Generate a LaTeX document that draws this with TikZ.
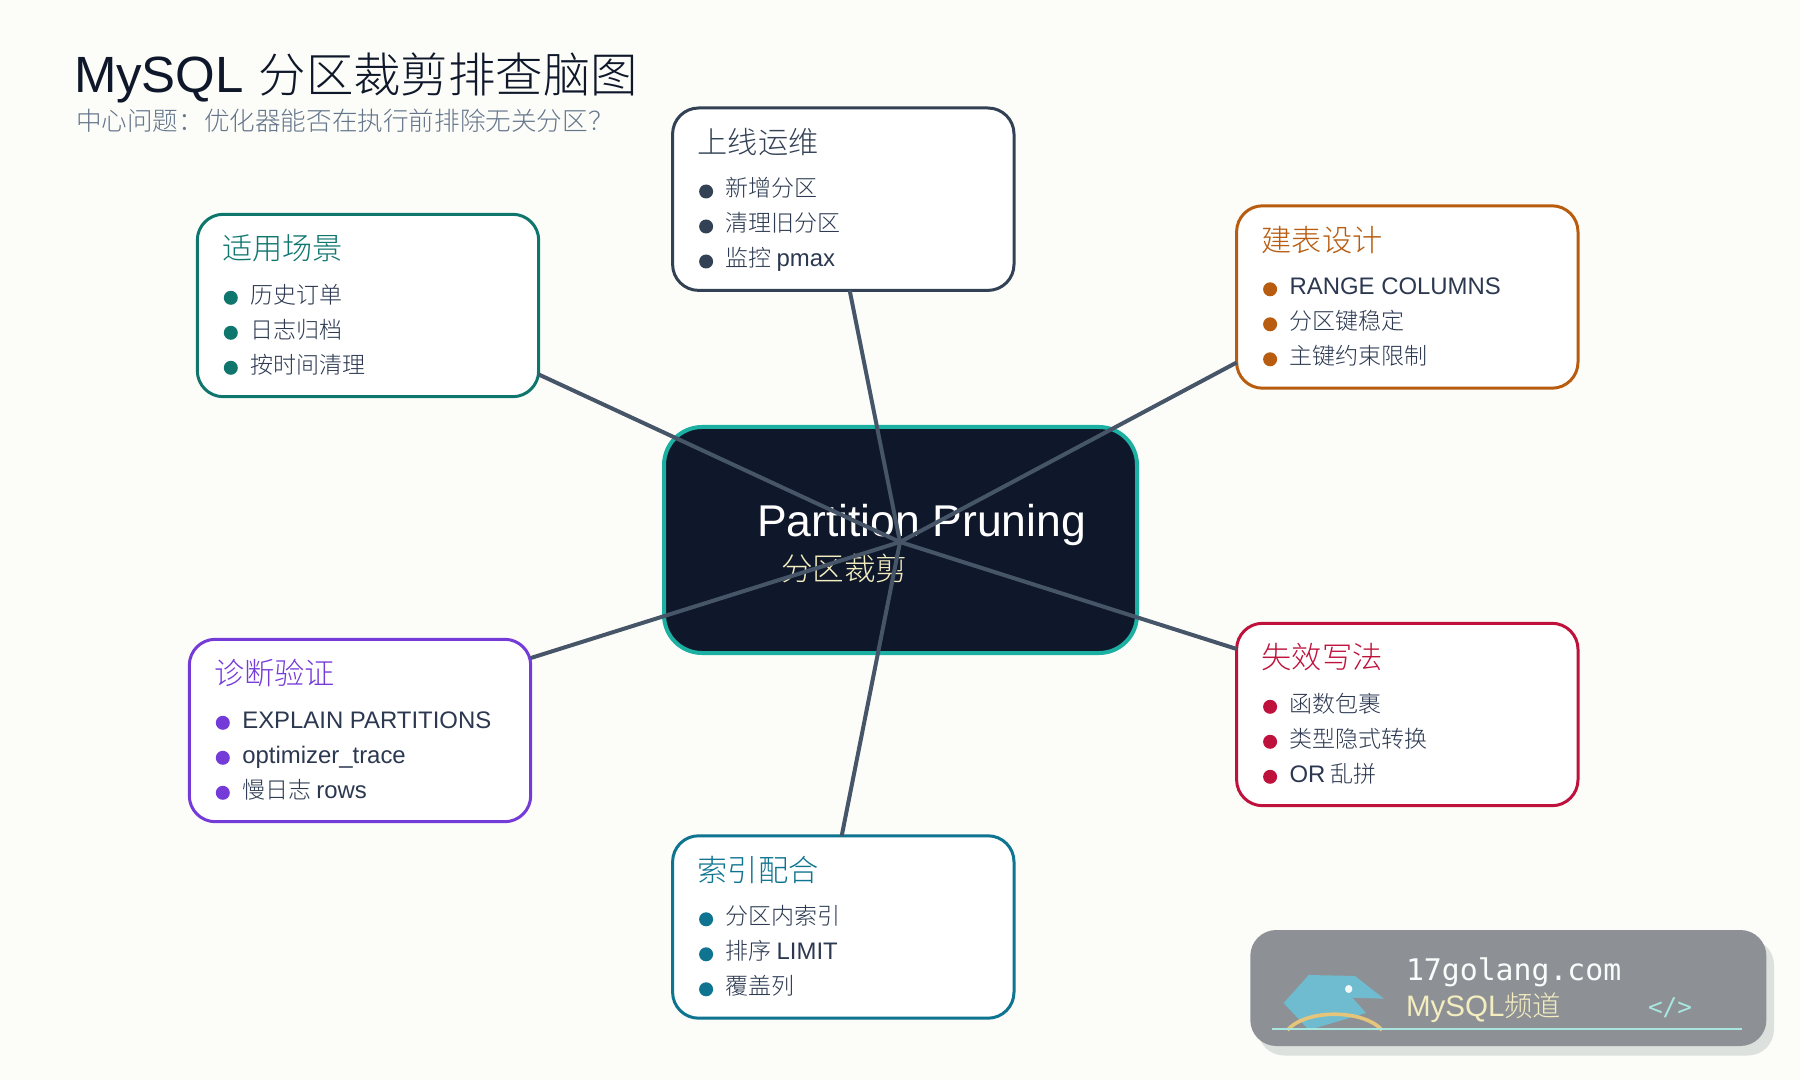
\documentclass[tikz,border=0pt]{standalone}
\usepackage{fontspec}
\setmainfont{Noto Sans CJK SC Light}
\newfontfamily\latf[Scale=1.04]{Liberation Sans}
\newcommand{\lat}[1]{{\latf #1}}
\setmonofont{DejaVu Sans Mono}
\usetikzlibrary{calc}
\definecolor{bgc}{HTML}{FCFDF8}
\definecolor{ink}{HTML}{0F172A}
\definecolor{subc}{HTML}{64748B}
\definecolor{itemc}{HTML}{334155}
\definecolor{itemtxt}{HTML}{2B3850}
\definecolor{linec}{HTML}{475569}
\definecolor{tealc}{HTML}{0F766E}
\definecolor{orangec}{HTML}{B85C10}
\definecolor{redc}{HTML}{BE123C}
\definecolor{purplec}{HTML}{753BD9}
\definecolor{cyanc}{HTML}{0E7490}
\definecolor{hubedge}{HTML}{1BB0A2}
\definecolor{logobg}{HTML}{8D9196}
\definecolor{logoshadow}{HTML}{DDE1DD}
\definecolor{logoline}{HTML}{A8E6DF}
\definecolor{fishc}{HTML}{6FBCD0}
\definecolor{archc}{HTML}{E6C57A}
\definecolor{creamc}{HTML}{F3EDC0}
\tikzset{
  x=0.5pt,y=-0.5pt,
  txt/.style={inner sep=0pt,outer sep=0pt,anchor=base west},
  titletext/.style={txt,text=ink,font=\fontsize{23.7}{24}\selectfont},
  subtext/.style={txt,text=subc,font=\fontsize{12.8}{13}\selectfont},
  headtext/.style={txt,font=\fontsize{15.1}{15}\selectfont},
  itemtext/.style={txt,text=itemtxt,font=\fontsize{11.5}{12}\selectfont},
  bulletdot/.style={circle,inner sep=0pt,outer sep=0pt,minimum size=7pt},
  topicbox/.style={draw,fill=white,line width=1.5pt,rounded corners=13pt,inner sep=0pt,outer sep=0pt,minimum width=170.7pt,minimum height=91.2pt},
  hubbox/.style={draw=hubedge,fill=ink,line width=2pt,rounded corners=19pt,inner sep=0pt,outer sep=0pt,minimum width=236.5pt,minimum height=113pt},
  conn/.style={draw=linec,line width=2pt},
}
\newcommand{\topic}[8]{%
  \node[topicbox,draw=#4] (#1) at (#2,#3) {};
  \node[headtext,text=#4] (#1h) at ($(#1.north west)+(25,45.5)$) {#5};
  \node[bulletdot,fill=#4] (#1ba) at ($(#1.north west)+(33.5,83.5)$) {};
  \node[bulletdot,fill=#4] (#1bb) at ($(#1.north west)+(33.5,118.5)$) {};
  \node[bulletdot,fill=#4] (#1bc) at ($(#1.north west)+(33.5,153.5)$) {};
  \node[itemtext] (#1a) at ($(#1.north west)+(53,89)$) {#6};
  \node[itemtext] (#1b) at ($(#1.north west)+(53,124)$) {#7};
  \node[itemtext] (#1c) at ($(#1.north west)+(53,159)$) {#8};
}
\begin{document}
\begin{tikzpicture}
\useasboundingbox (0,0) rectangle (1800,1080);
\fill[bgc] (0,0) rectangle (1800,1080);
\node[titletext] (title) at (74,93) {{\fontsize{24.5}{24}\selectfont\lat{MySQL}}\hspace{2.2pt} 分区裁剪排查脑图};
\node[subtext] (subtitle) at (76,131) {中心问题\char"FF1A 优化器能否在执行前排除无关分区\char"FF1F};

\node[hubbox] (hub) at (900.5,540) {};
\node[txt,text=white,font=\fontsize{21.4}{21}\selectfont] (hubt) at (757,537) {\lat{Partition Pruning}};
\node[txt,text=creamc,font=\fontsize{15.8}{16}\selectfont] (hubs) at (781,581) {分区裁剪};
\coordinate (c) at (900,542);

\topic{ops}{843.3}{199.2}{itemc}{上线运维}{新增分区}{清理旧分区}{监控 \lat{pmax}}
\topic{usec}{368}{305.5}{tealc}{适用场景}{历史订单}{日志归档}{按时间清理}
\topic{design}{1407.3}{297}{orangec}{建表设计}{\lat{RANGE COLUMNS}}{分区键稳定}{主键约束限制}
\topic{fail}{1407.3}{714.5}{redc}{失效写法}{函数包裹}{类型隐式转换}{\lat{OR} 乱拼}
\topic{index}{843.3}{927}{cyanc}{索引配合}{分区内索引}{排序 \lat{LIMIT}}{覆盖列}
\topic{diag}{360}{730.5}{purplec}{诊断验证}{\lat{EXPLAIN PARTITIONS}}{\lat{optimizer\_trace}}{慢日志 \lat{rows}}

\draw[conn] (ops.-86.1) -- (c);
\draw[conn] (usec.-22.2) -- (c);
\draw[conn] (design.201.5) -- (c);
\draw[conn] (fail.159.1) -- (c);
\draw[conn] (index.91.1) -- (c);
\draw[conn] (diag.23.5) -- (c);

% logo
\fill[logoshadow,rounded corners=13pt] (1258,939) rectangle (1774,1055.5);
\fill[logobg,rounded corners=13pt] (1250.3,930) rectangle (1766.4,1046);
\fill[fishc] (1308.8,975) -- (1355,976) -- (1383.9,998.7) -- (1352.4,997.7) -- (1366,1013) -- (1308.8,1030) -- (1283.6,1003) -- cycle;
\fill[white!90!fishc] (1348.7,989) ellipse (3.7 and 4);
\draw[archc,line width=1.8pt] (1287.5,1030) .. controls (1306,1009) and (1363,1009) .. (1382,1030);
\draw[logoline,line width=0.75pt] (1271.8,1029) -- (1742.4,1029);
\node[txt,text=white!92!logoline,font=\ttfamily\fontsize{14.9}{15}\selectfont] (logoa) at (1406,980) {17golang.com};
\node[txt,text=creamc,font=\fontsize{14.2}{15}\selectfont] (logob) at (1406,1016) {\lat{MySQL}频道};
\node[txt,text=logoline,font=\ttfamily\fontsize{12.2}{12}\selectfont] (logoc) at (1648,1015) {</>};
\end{tikzpicture}
\end{document}
